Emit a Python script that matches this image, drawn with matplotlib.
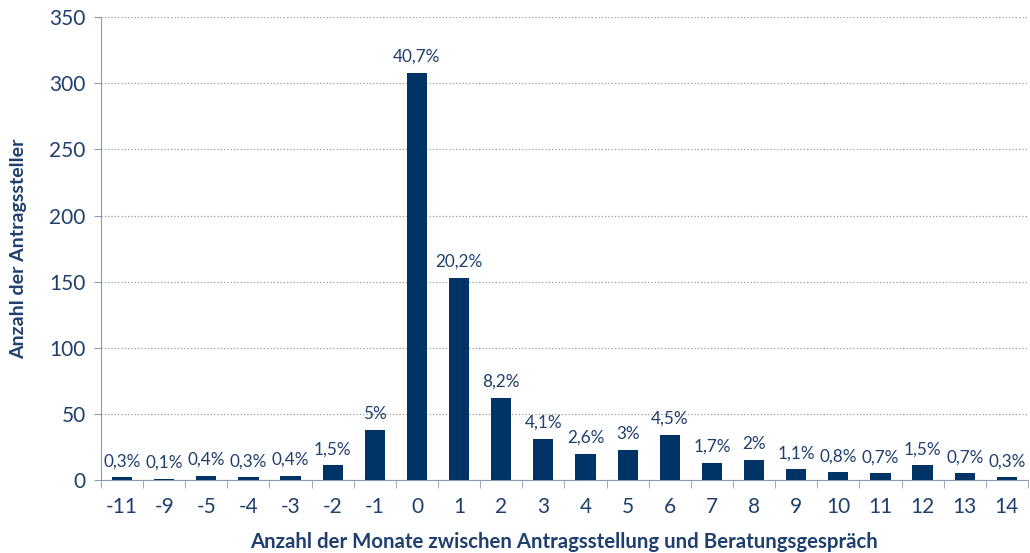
import numpy as np
import matplotlib.pyplot as plt

plt.rcParams['font.family'] = ['Lato', 'DejaVu Sans']

monate = ['-11', '-9', '-5', '-4', '-3', '-2', '-1', '0', '1', '2', '3', '4', '5',
          '6', '7', '8', '9', '10', '11', '12', '13', '14']
anzahl = [2, 1, 3, 2, 3, 11, 38, 308, 153, 62, 31, 20, 23, 34, 13, 15, 8, 6, 5, 11, 5, 2]
anteil = ['0,3%', '0,1%', '0,4%', '0,3%', '0,4%', '1,5%', '5%', '40,7%', '20,2%', '8,2%',
          '4,1%', '2,6%', '3%', '4,5%', '1,7%', '2%', '1,1%', '0,8%', '0,7%', '1,5%',
          '0,7%', '0,3%']

blau = '#003366'
text_blau = '#1f3f6e'

fig = plt.figure(figsize=(10.3, 5.53), dpi=100)
ax = fig.add_axes([0.098, 0.132, 0.9, 0.837])

x = np.arange(len(monate))
ax.bar(x, anzahl, width=0.48, color=blau, zorder=3)
for xi, h, lab in zip(x, anzahl, anteil):
    ax.text(xi, h + 6, lab, ha='center', va='bottom', fontsize=12.3, color=text_blau)

ax.set_xlim(-0.5, len(monate) - 0.5)
ax.set_ylim(0, 350)
ax.set_yticks(range(0, 351, 50))
ax.set_xticks(x)
ax.set_xticklabels(monate)
ax.set_xticks(np.arange(-0.5, len(monate), 1), minor=True)
ax.tick_params(axis='x', which='major', length=0, pad=12, labelsize=15, labelcolor=text_blau)
ax.tick_params(axis='x', which='minor', length=6, color='#8c9bb0', direction='out')
ax.tick_params(axis='y', length=5, color='#8c9bb0', labelsize=15, labelcolor=text_blau, pad=6)

ax.grid(axis='y', linestyle=':', color='#999999', linewidth=0.9, zorder=0)
for s in ['top', 'right']:
    ax.spines[s].set_visible(False)
ax.spines['left'].set_color('#8c9bb0')
ax.spines['bottom'].set_color('#8c9bb0')

ax.set_xlabel('Anzahl der Monate zwischen Antragsstellung und Beratungsgespräch',
              fontsize=14.7, fontweight='bold', color=text_blau, labelpad=11)
ax.set_ylabel('Anzahl der Antragssteller', fontsize=14, fontweight='bold',
              color=text_blau, labelpad=16)

fig.savefig('out.png', dpi=100)
